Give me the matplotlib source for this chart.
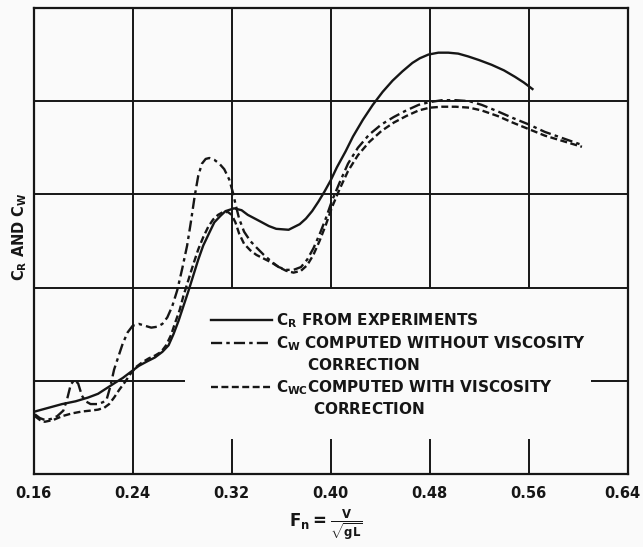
import numpy as np
import matplotlib.pyplot as plt
import matplotlib.transforms as mtransforms
from matplotlib.lines import Line2D

plt.rcParams['font.family'] = ['DejaVu Sans']
plt.rcParams['mathtext.fontset'] = 'custom'
plt.rcParams['mathtext.rm'] = 'DejaVu Sans:bold'
plt.rcParams['mathtext.it'] = 'DejaVu Sans:bold'
plt.rcParams['mathtext.bf'] = 'DejaVu Sans:bold'
plt.rcParams['lines.scale_dashes'] = False

INK = '#161616'

fn_ticks = [0.16, 0.24, 0.32, 0.40, 0.48, 0.56, 0.64]
fn_labels = ['0.16', '0.24', '0.32', '0.40', '0.48', '0.56', '0.64']
grid_levels = [1, 2, 3, 4]

# C_R from experiments
cr_x = [0.161, 0.172, 0.183, 0.194, 0.204, 0.212, 0.219, 0.226, 0.232, 0.239, 0.245,
        0.252, 0.258, 0.264, 0.269, 0.273, 0.277, 0.281, 0.285, 0.289, 0.293, 0.297,
        0.302, 0.306, 0.311, 0.315, 0.322, 0.328, 0.333, 0.343, 0.350, 0.356, 0.366,
        0.375, 0.380, 0.385, 0.390, 0.395, 0.400, 0.405, 0.412, 0.418, 0.426, 0.434,
        0.442, 0.450, 0.458, 0.466, 0.472, 0.479, 0.487, 0.495, 0.503, 0.511, 0.520,
        0.530, 0.540, 0.549, 0.556, 0.563]
cr_y = [0.67, 0.71, 0.75, 0.78, 0.82, 0.86, 0.92, 0.98, 1.03, 1.10, 1.16,
        1.21, 1.25, 1.31, 1.38, 1.50, 1.64, 1.80, 1.96, 2.13, 2.30, 2.45,
        2.59, 2.70, 2.77, 2.82, 2.85, 2.83, 2.78, 2.71, 2.66, 2.63, 2.62,
        2.68, 2.74, 2.82, 2.92, 3.03, 3.15, 3.29, 3.46, 3.62, 3.80, 3.96,
        4.10, 4.22, 4.32, 4.41, 4.46, 4.50, 4.52, 4.52, 4.51, 4.48, 4.44,
        4.39, 4.33, 4.26, 4.20, 4.13]

# C_W computed without viscosity correction
cw_x = [0.161, 0.165, 0.169, 0.174, 0.179, 0.184, 0.187, 0.190, 0.193, 0.196, 0.199,
        0.202, 0.206, 0.212, 0.216, 0.219, 0.222, 0.225, 0.229, 0.232, 0.236, 0.240,
        0.245, 0.250, 0.255, 0.260, 0.264, 0.268, 0.272, 0.276, 0.280, 0.284, 0.287,
        0.290, 0.293, 0.296, 0.299, 0.302, 0.306, 0.310, 0.314, 0.318, 0.321, 0.323,
        0.326, 0.330, 0.335, 0.340, 0.346, 0.352, 0.358, 0.364, 0.370, 0.376, 0.381,
        0.386, 0.391, 0.396, 0.401, 0.407, 0.414, 0.422, 0.431, 0.441, 0.451, 0.461,
        0.471, 0.480, 0.490, 0.501, 0.512, 0.522, 0.535, 0.547, 0.560, 0.573, 0.588,
        0.603]
cw_y = [0.64, 0.60, 0.58, 0.59, 0.62, 0.68, 0.80, 0.96, 1.01, 0.97, 0.84,
        0.78, 0.75, 0.75, 0.77, 0.80, 0.94, 1.12, 1.28, 1.40, 1.52, 1.59,
        1.61, 1.59, 1.57, 1.58, 1.61, 1.68, 1.80, 1.97, 2.20, 2.45, 2.70,
        2.97, 3.20, 3.33, 3.38, 3.39, 3.37, 3.33, 3.27, 3.16, 3.02, 2.90,
        2.74, 2.60, 2.50, 2.43, 2.35, 2.28, 2.22, 2.19, 2.19, 2.22, 2.30,
        2.42, 2.57, 2.74, 2.93, 3.12, 3.33, 3.50, 3.64, 3.75, 3.83, 3.90,
        3.96, 3.99, 4.01, 4.01, 4.00, 3.96, 3.89, 3.82, 3.75, 3.67, 3.60,
        3.53]

# C_WC computed with viscosity correction
cwc_x = [0.161, 0.165, 0.169, 0.176, 0.183, 0.191, 0.199, 0.206, 0.212, 0.217, 0.221,
         0.225, 0.229, 0.234, 0.238, 0.243, 0.248, 0.253, 0.258, 0.263, 0.267, 0.271,
         0.274, 0.278, 0.281, 0.285, 0.289, 0.293, 0.297, 0.301, 0.305, 0.309, 0.313,
         0.317, 0.320, 0.323, 0.326, 0.330, 0.335, 0.340, 0.346, 0.352, 0.358, 0.364,
         0.370, 0.376, 0.381, 0.386, 0.391, 0.396, 0.401, 0.407, 0.414, 0.422, 0.431,
         0.441, 0.451, 0.461, 0.471, 0.480, 0.490, 0.501, 0.512, 0.522, 0.535, 0.547,
         0.560, 0.573, 0.588, 0.603]
cwc_y = [0.62, 0.58, 0.56, 0.58, 0.62, 0.65, 0.67, 0.68, 0.69, 0.71, 0.75,
         0.82, 0.90, 0.99, 1.07, 1.15, 1.20, 1.24, 1.27, 1.31, 1.38, 1.49,
         1.61, 1.76, 1.91, 2.08, 2.25, 2.41, 2.54, 2.65, 2.73, 2.78, 2.81,
         2.81, 2.78, 2.70, 2.58, 2.47, 2.40, 2.35, 2.31, 2.27, 2.22, 2.18,
         2.16, 2.18, 2.24, 2.35, 2.50, 2.67, 2.86, 3.05, 3.25, 3.42, 3.56,
         3.68, 3.77, 3.84, 3.90, 3.93, 3.94, 3.94, 3.93, 3.90, 3.84, 3.77,
         3.70, 3.63, 3.57, 3.51]

fig = plt.figure(figsize=(6.43, 5.47), dpi=100, facecolor='#fafafa')
ax = fig.add_axes([0.0523, 0.1335, 0.924, 0.852])
ax.set_facecolor('#fafafa')
ax.set_xlim(0.16, 0.64)
ax.set_ylim(0, 5)

# grid, drawn the way the original chart has it
ax.axvline(0.24, color=INK, lw=1.4, zorder=1)
for x in fn_ticks[2:-1]:
    ax.vlines(x, 2, 5, color=INK, lw=1.4, zorder=1)
    ax.vlines(x, 0, 0.37, color=INK, lw=1.4, zorder=1)
for y in grid_levels[1:]:
    ax.axhline(y, color=INK, lw=1.4, zorder=1)
ax.hlines(1, 0.16, 0.282, color=INK, lw=1.4, zorder=1)
ax.hlines(1, 0.610, 0.64, color=INK, lw=1.4, zorder=1)

ax.plot(cr_x, cr_y, color=INK, lw=1.7, zorder=3)
ax.plot(cw_x, cw_y, color=INK, lw=1.7, dashes=(8, 3, 2.5, 3), zorder=3)
ax.plot(cwc_x, cwc_y, color=INK, lw=1.7, dashes=(5, 2.5), zorder=3)

for s in ax.spines.values():
    s.set_linewidth(1.6)
    s.set_color(INK)

ax.set_xticks(fn_ticks)
ax.set_xticklabels(fn_labels, fontsize=10.5, fontweight='bold', color=INK)
ax.tick_params(axis='x', length=0, pad=9)
ax.set_yticks([])
# keep the last label inside the picture
last = ax.get_xticklabels()[-1]
last.set_transform(last.get_transform() +
                   mtransforms.ScaledTranslation(-4 / 72, 0, fig.dpi_scale_trans))

fig.text(0.031, 0.567, r'$C_R$ AND $C_W$', rotation=90, ha='center', va='center',
         fontsize=10.5, fontweight='bold', color=INK)
fig.text(0.507, 0.04, r'$F_n = \frac{V}{\sqrt{gL}}$', ha='center', va='center',
         fontsize=12, color=INK)

handles = [
    Line2D([], [], color=INK, lw=1.7),
    Line2D([], [], color=INK, lw=1.7, dashes=(8, 3, 2.5, 3)),
    Line2D([], [], color='none'),
    Line2D([], [], color=INK, lw=1.7, dashes=(5, 2.5)),
    Line2D([], [], color='none'),
]
labels = [
    r'$C_R$ FROM EXPERIMENTS',
    r'$C_W$ COMPUTED WITHOUT VISCOSITY',
    r'$\ \ \ \ \ \ $CORRECTION',
    r'$C_{WC}$COMPUTED WITH VISCOSITY',
    r'$\ \ \ \ \ \ \ $CORRECTION',
]
leg = ax.legend(handles, labels, loc='upper left', bbox_to_anchor=(0.298, 0.35),
                frameon=False, handlelength=4.0, handletextpad=0.25, labelspacing=0.3,
                borderpad=0, borderaxespad=0,
                prop={'weight': 'bold', 'size': 11})
for t in leg.get_texts():
    t.set_color(INK)

fig.savefig('out.png', dpi=100, facecolor=fig.get_facecolor())
